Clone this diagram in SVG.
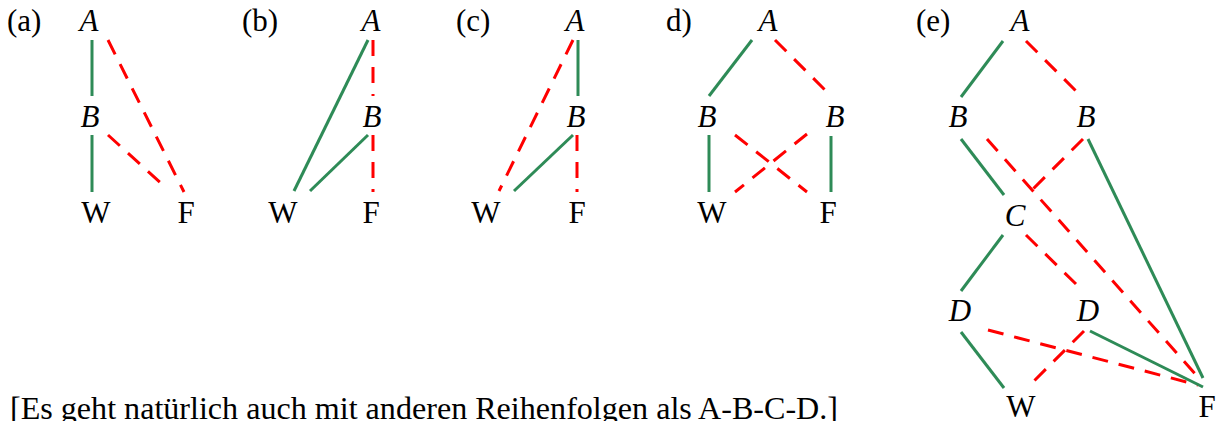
<svg xmlns="http://www.w3.org/2000/svg" width="1221" height="421" viewBox="0 0 1221 421">
<style>
text{font-family:"Liberation Serif","Times New Roman",serif;font-size:31px;fill:#000}
.v{font-style:italic;text-anchor:middle}
.n{text-anchor:middle}
.g{stroke:#2e8b57;stroke-width:3;fill:none}
.r{stroke:#ff0000;stroke-width:3;fill:none;stroke-dasharray:16 11}
</style>
<rect width="1221" height="421" fill="#fff"/>
<g id="connectors">
<!-- (a) -->
<line class="g" x1="92" y1="40" x2="92" y2="96"/>
<line class="g" x1="92" y1="135" x2="92" y2="192"/>
<line class="r" x1="108" y1="40" x2="184" y2="192"/>
<line class="r" x1="108" y1="135" x2="163" y2="185"/>
<!-- (b) -->
<line class="r" x1="373" y1="40" x2="373" y2="96"/>
<line class="g" x1="368" y1="40" x2="294" y2="191"/>
<line class="g" x1="368" y1="135" x2="310" y2="191"/>
<line class="r" x1="373" y1="135" x2="373" y2="192"/>
<!-- (c) -->
<line class="g" x1="578" y1="40" x2="578" y2="96"/>
<line class="r" x1="573" y1="40" x2="499" y2="191"/>
<line class="g" x1="573" y1="135" x2="514" y2="191"/>
<line class="r" x1="577" y1="135" x2="577" y2="192"/>
<!-- (d) -->
<line class="g" x1="752" y1="40" x2="709" y2="96"/>
<line class="r" x1="775" y1="40" x2="826" y2="91"/>
<line class="g" x1="709" y1="135" x2="709" y2="192"/>
<line class="g" x1="831" y1="136" x2="831" y2="192"/>
<line class="r" x1="735" y1="135" x2="807" y2="192"/>
<line class="r" x1="807" y1="134" x2="735" y2="192"/>
<!-- (e) -->
<line class="g" x1="1003" y1="41" x2="961" y2="97"/>
<line class="r" x1="1026" y1="41" x2="1078" y2="93"/>
<line class="g" x1="961" y1="139" x2="1004" y2="195"/>
<line class="r" x1="987" y1="139" x2="1197" y2="376"/>
<line class="r" x1="1083" y1="139" x2="1030" y2="192"/>
<line class="g" x1="1088" y1="139" x2="1203" y2="378"/>
<line class="g" x1="1003" y1="235" x2="961" y2="291"/>
<line class="r" x1="1026" y1="235" x2="1078" y2="286"/>
<line class="g" x1="961" y1="332" x2="1004" y2="388"/>
<line class="r" x1="988" y1="330" x2="1198" y2="385"/>
<line class="r" x1="1084" y1="331" x2="1031" y2="384"/>
<line class="g" x1="1090" y1="331" x2="1203" y2="387"/>
</g>
<g id="panel-a">
<text x="7" y="31">(a)</text>
<g id="a-A"><text class="v" x="89" y="31">A</text></g>
<g id="a-B"><text class="v" x="90" y="127">B</text></g>
<g id="a-W"><text class="n" x="96" y="223">W</text></g>
<g id="a-F"><text class="n" x="186" y="223">F</text></g>
</g>
<g id="panel-b">
<text x="242" y="31">(b)</text>
<g id="b-A"><text class="v" x="371" y="31">A</text></g>
<g id="b-B"><text class="v" x="372" y="127">B</text></g>
<g id="b-W"><text class="n" x="283" y="223">W</text></g>
<g id="b-F"><text class="n" x="371" y="223">F</text></g>
</g>
<g id="panel-c">
<text x="456" y="31">(c)</text>
<g id="c-A"><text class="v" x="575" y="31">A</text></g>
<g id="c-B"><text class="v" x="576" y="127">B</text></g>
<g id="c-W"><text class="n" x="486" y="223">W</text></g>
<g id="c-F"><text class="n" x="577" y="223">F</text></g>
</g>
<g id="panel-d">
<text x="666" y="31">d)</text>
<g id="d-A"><text class="v" x="768" y="31">A</text></g>
<g id="d-B1"><text class="v" x="707" y="127">B</text></g>
<g id="d-B2"><text class="v" x="835" y="127">B</text></g>
<g id="d-W"><text class="n" x="712" y="223">W</text></g>
<g id="d-F"><text class="n" x="828" y="223">F</text></g>
</g>
<g id="panel-e">
<text x="916" y="31">(e)</text>
<g id="e-A"><text class="v" x="1020" y="31">A</text></g>
<g id="e-B1"><text class="v" x="958" y="127">B</text></g>
<g id="e-B2"><text class="v" x="1086" y="127">B</text></g>
<g id="e-C"><text class="v" x="1015" y="226">C</text></g>
<g id="e-D1"><text class="v" x="960" y="321">D</text></g>
<g id="e-D2"><text class="v" x="1088" y="321">D</text></g>
<g id="e-W"><text class="n" x="1021" y="417">W</text></g>
<g id="e-F"><text class="n" x="1207" y="417">F</text></g>
</g>
<g id="note">
<text x="10" y="419" style="font-size:32px" textLength="828" lengthAdjust="spacingAndGlyphs">[Es geht natürlich auch mit anderen Reihenfolgen als A-B-C-D.]</text>
</g>
</svg>
